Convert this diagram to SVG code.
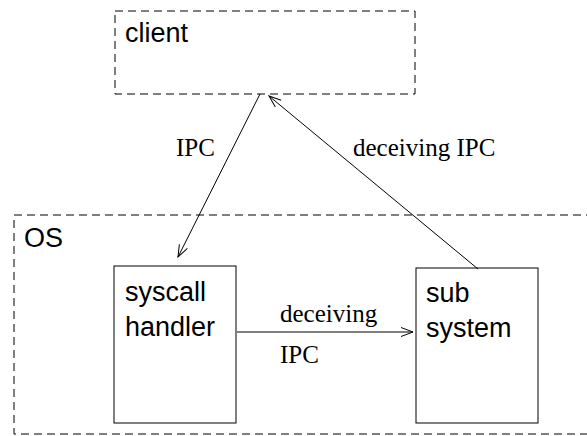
<svg xmlns="http://www.w3.org/2000/svg" width="587" height="436" viewBox="0 0 587 436">
<style>
.dash{fill:none;stroke:#000;stroke-width:1;stroke-dasharray:8 5}
.box{fill:#fff;stroke:#000;stroke-width:1}
.sans{font-family:"Liberation Sans",Arial,sans-serif;font-size:27px;fill:#000}
.serif{font-family:"Liberation Serif","Times New Roman",serif;font-size:25px;fill:#000}
.conn{fill:none;stroke:#000;stroke-width:1}
</style>
<defs>
<marker id="arr" markerUnits="userSpaceOnUse" markerWidth="14" markerHeight="12" refX="13" refY="5" orient="auto">
<path d="M1,0.5 L13,5 L1,9.5" fill="none" stroke="#000" stroke-width="1"/>
</marker>
</defs>
<rect width="587" height="436" fill="#fff"/>
<g id="client">
<rect class="dash" x="115" y="11" width="300" height="83"/>
<text class="sans" x="125" y="42">client</text>
</g>
<g id="os">
<rect class="dash" x="14" y="215" width="600" height="219"/>
<text class="sans" x="24" y="247">OS</text>
</g>
<g id="syscall">
<rect class="box" x="114" y="266" width="122" height="157"/>
<text class="sans" x="125" y="301">syscall</text>
<text class="sans" x="125" y="336">handler</text>
</g>
<g id="subsystem">
<rect class="box" x="416" y="268" width="122" height="155"/>
<text class="sans" x="426" y="302">sub</text>
<text class="sans" x="426" y="337">system</text>
</g>
<g id="connectors">
<line class="conn" x1="260" y1="94" x2="178" y2="257" marker-end="url(#arr)"/>
<line class="conn" x1="478" y1="269" x2="269" y2="96" marker-end="url(#arr)"/>
<line class="conn" x1="237" y1="332" x2="413" y2="332" marker-end="url(#arr)"/>
<text class="serif" x="176" y="156">IPC</text>
<text class="serif" x="353" y="156">deceiving IPC</text>
<text class="serif" x="280" y="322">deceiving</text>
<text class="serif" x="280" y="363">IPC</text>
</g>
</svg>
